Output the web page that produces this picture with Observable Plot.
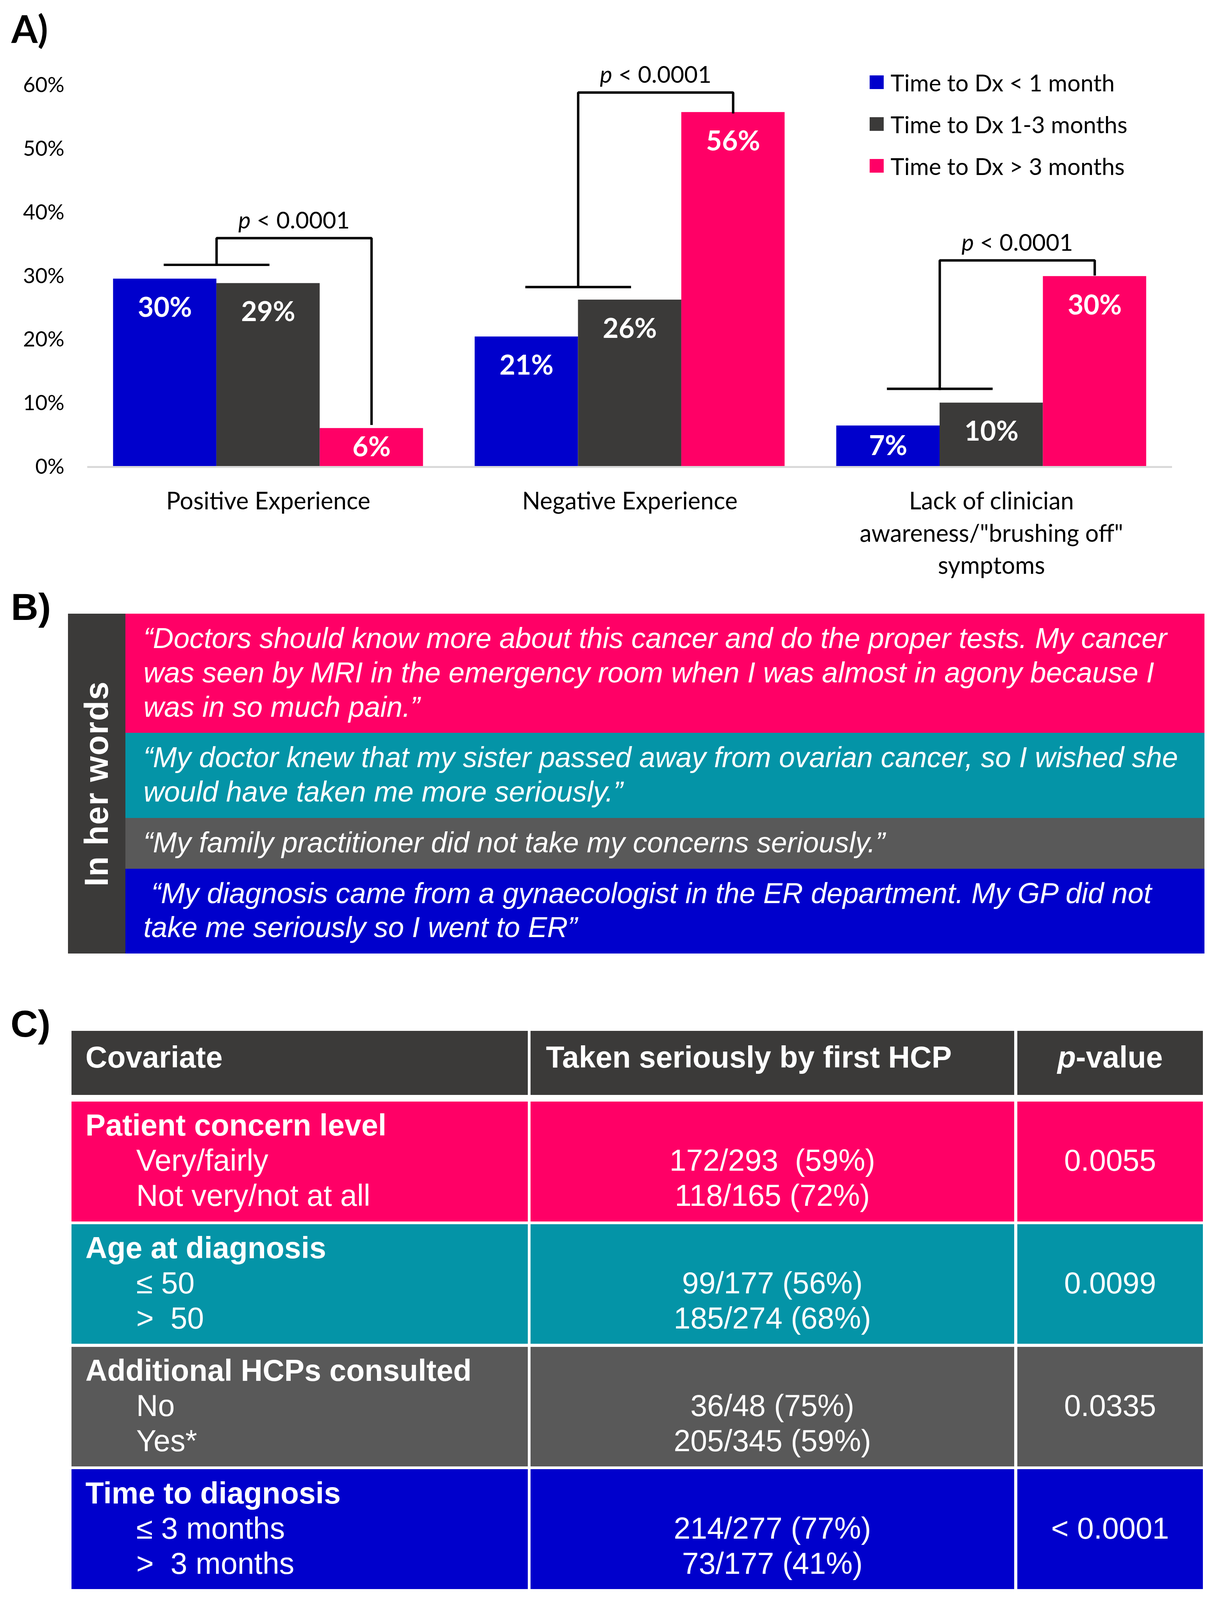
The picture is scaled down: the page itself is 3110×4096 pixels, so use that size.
<!DOCTYPE html>
<html>
<head>
<meta charset="utf-8">
<script src="https://cdn.jsdelivr.net/npm/d3@7"></script>
<script src="https://cdn.jsdelivr.net/npm/@observablehq/plot@0.6"></script>
<style>
  html, body { margin: 0; padding: 0; background: #fff; }
  #page { position: relative; width: 3110px; height: 4096px; overflow: hidden; background: #fff; }
  .plbl { position: absolute; color: #000; line-height: 1; font-weight: bold; font-size: 97px; white-space: pre; }
  .legend { position: absolute; left: 2226px; top: 157px; font-family: Lato, sans-serif; font-size: 59.5px; color: #000; }
  .legend .row { height: 107px; display: flex; align-items: center; white-space: pre; }
  .legend .sw { width: 35.5px; height: 35.5px; margin-right: 18px; flex: none; }
  .quotes { position: absolute; left: 173.9px; top: 1571.3px; width: 2908.9px; display: flex; }
  .side { width: 147.3px; flex: none; background: #3B3A39; display: flex; align-items: center; justify-content: center; }
  .side span { writing-mode: vertical-rl; transform: rotate(180deg); color: #fff; font-family: "Liberation Sans", Arial, sans-serif; font-weight: bold; font-size: 84.5px; letter-spacing: 2px; white-space: pre; }
  .qcol { flex: 1; display: flex; flex-direction: column; }
  .qbox { box-sizing: border-box; padding: 20px 0 22px 46px; color: #fff; font-family: "Liberation Sans", Arial, sans-serif; font-style: italic; font-size: 73.2px; line-height: 87.7px; }
  .qbox div { white-space: pre; }
  .table { position: absolute; left: 182.8px; top: 2638.9px; width: 2896.2px; height: 1430px; }
  .cell { position: absolute; box-sizing: border-box; color: #fff; font-family: "Liberation Sans", Arial, sans-serif; font-size: 77px; line-height: 90px; }
  .cell div { white-space: pre; }
</style>
</head>
<body>
<div id="page"></div>
<script>
// ---------------- Panel A data ----------------
const groups = ["Positive Experience", "Negative Experience", "Lack of clinician\nawareness/\"brushing off\"\nsymptoms"];
const series = ["Time to Dx < 1 month", "Time to Dx 1-3 months", "Time to Dx > 3 months"];
const seriesColors = ["#0000CC", "#3B3A39", "#FF0066"];
const lessThan1Month = [29.6, 20.5, 6.5];
const oneTo3Months = [28.9, 26.3, 10.1];
const moreThan3Months = [6.1, 55.8, 30.0];
const lessThan1MonthLabels = ["30%", "21%", "7%"];
const oneTo3MonthsLabels = ["29%", "26%", "10%"];
const moreThan3MonthsLabels = ["6%", "56%", "30%"];
const yTicks = [0, 10, 20, 30, 40, 50, 60];
const pLabels = ["p < 0.0001", "p < 0.0001", "p < 0.0001"];
const bracketLow = [31.8, 28.3, 12.3];
const bracketTop = [36.0, 58.9, 32.5];
const bracketEnd = [6.8, 55.8, 30.3];

// ---------------- Panel B data ----------------
const quoteLines = [
  ["\u201CDoctors should know more about this cancer and do the proper tests. My cancer",
   "was seen by MRI in the emergency room when I was almost in agony because I",
   "was in so much pain.\u201D"],
  ["\u201CMy doctor knew that my sister passed away from ovarian cancer, so I wished she",
   "would have taken me more seriously.\u201D"],
  ["\u201CMy family practitioner did not take my concerns seriously.\u201D"],
  [" \u201CMy diagnosis came from a gynaecologist in the ER department. My GP did not",
   "take me seriously so I went to ER\u201D"]
];
const quoteColors = ["#FF0066", "#0494A7", "#595959", "#0000CC"];
const sideLabel = "In her words";

// ---------------- Panel C data ----------------
const tableHeader = ["Covariate", "Taken seriously by first HCP", "p-value"];
const covariates = ["Patient concern level", "Age at diagnosis", "Additional HCPs consulted", "Time to diagnosis"];
const covariateLevels = [["Very/fairly", "Not very/not at all"], ["\u2264 50", ">  50"], ["No", "Yes*"], ["\u2264 3 months", ">  3 months"]];
const takenSeriously = [["172/293  (59%)", "118/165 (72%)"], ["99/177 (56%)", "185/274 (68%)"], ["36/48 (75%)", "205/345 (59%)"], ["214/277 (77%)", "73/177 (41%)"]];
const pValues = ["0.0055", "0.0099", "0.0335", "< 0.0001"];
const rowColors = ["#FF0066", "#0494A7", "#595959", "#0000CC"];
const headerColor = "#3B3A39";

const page = d3.select("#page");

// ---------------- Panel A ----------------
const seriesValues = [lessThan1Month, oneTo3Months, moreThan3Months];
const seriesLabels = [lessThan1MonthLabels, oneTo3MonthsLabels, moreThan3MonthsLabels];
const bw = 2 / 7; // bar width in group units
const bars = [];
groups.forEach((g, gi) => series.forEach((s, si) => bars.push({gi, si, series: s, value: seriesValues[si][gi], label: seriesLabels[si][gi]})));
const center = d => d.gi + (d.si - 1) * bw;

const brackets = [];
groups.forEach((g, gi) => {
  const blueC = gi - bw, grayC = gi, mid = gi - bw / 2, pinkC = gi + bw;
  brackets.push({id: gi * 2, x: blueC, y: bracketLow[gi]}, {id: gi * 2, x: grayC, y: bracketLow[gi]});
  brackets.push({id: gi * 2 + 1, x: mid, y: bracketLow[gi]}, {id: gi * 2 + 1, x: mid, y: bracketTop[gi]},
                {id: gi * 2 + 1, x: pinkC, y: bracketTop[gi]}, {id: gi * 2 + 1, x: pinkC, y: bracketEnd[gi]});
});
const pData = groups.map((g, gi) => ({x: gi + bw / 4, y: bracketTop[gi], text: pLabels[gi]}));

const chart = Plot.plot({
  width: 3110,
  height: 1510,
  marginLeft: 223.3,
  marginRight: 110,
  marginTop: 218.5,
  marginBottom: 314.9,
  x: {domain: [-0.5, 2.5]},
  y: {domain: [0, 60]},
  color: {domain: series, range: seriesColors},
  style: {fontFamily: "Lato, sans-serif", fontSize: "60px", color: "#000", background: "transparent", overflow: "visible"},
  marks: [
    Plot.rectY(bars, {x1: d => center(d) - bw / 2, x2: d => center(d) + bw / 2, y1: 0, y2: "value", fill: "series"}),
    Plot.ruleY([0], {stroke: "#D9D9D9", strokeWidth: 5}),
    Plot.text(bars, {x: center, y: d => Math.max(d.value - 4.6, d.value / 2), text: "label", fill: "white", fontWeight: "bold", fontSize: 70}),
    Plot.line(brackets, {x: "x", y: "y", z: "id", stroke: "#000", strokeWidth: 6.2, strokeLinejoin: "miter", strokeLinecap: "square"}),
    Plot.text(pData, {x: "x", y: "y", text: "text", dy: -44, fontSize: 60, fill: "#000"}),
    Plot.axisY({ticks: yTicks, tickFormat: d => d + "%", tickSize: 0, tickPadding: 59, fontSize: 54, label: null}),
    Plot.axisX({ticks: [0, 1, 2], tickFormat: i => groups[i], tickSize: 0, tickPadding: 50, fontSize: 61, lineHeight: 1.353, label: null})
  ]
});
d3.select(chart).style("position", "absolute").style("left", "0px").style("top", "0px").style("max-width", "none");
page.node().appendChild(chart);

// italic "p" in the p-value annotations
d3.select(chart).selectAll("text").filter(function() { return pLabels.includes(this.textContent); }).each(function() {
  const t = d3.select(this);
  const s = t.text();
  t.text(null);
  t.append("tspan").attr("font-style", "italic").text(s.slice(0, 1));
  t.append("tspan").text(s.slice(1));
});

// legend
const legend = page.append("div").attr("class", "legend");
series.forEach((s, i) => {
  const row = legend.append("div").attr("class", "row");
  row.append("div").attr("class", "sw").style("background", seriesColors[i]);
  row.append("span").text(s);
});

// panel labels
page.append("div").attr("class", "plbl").style("left", "29px").style("top", "24.4px").style("font-family", "Lato, sans-serif").text("A)");
page.append("div").attr("class", "plbl").style("left", "28px").style("top", "1505.3px").style("font-family", "'Liberation Sans', Arial, sans-serif").text("B)");
page.append("div").attr("class", "plbl").style("left", "27px").style("top", "2572px").style("font-family", "'Liberation Sans', Arial, sans-serif").text("C)");

// ---------------- Panel B ----------------
const quotes = page.append("div").attr("class", "quotes");
quotes.append("div").attr("class", "side").append("span").text(sideLabel);
const qcol = quotes.append("div").attr("class", "qcol");
quoteLines.forEach((lines, i) => {
  const box = qcol.append("div").attr("class", "qbox").style("background", quoteColors[i]);
  lines.forEach(l => box.append("div").text(l));
});

// ---------------- Panel C ----------------
const table = page.append("div").attr("class", "table");
const colX = [0, 1174.8, 2421.2];
const colW = [1168.1, 1238.8, 475];
const headerH = 164.6, headGap = 16.6, rowH = 306.5, rowGap = 7.3;

tableHeader.forEach((h, ci) => {
  const c = table.append("div").attr("class", "cell")
    .style("left", colX[ci] + "px").style("top", "0px")
    .style("width", colW[ci] + "px").style("height", headerH + "px")
    .style("background", headerColor).style("font-weight", "bold")
    .style("padding-top", "22.3px")
    .style("padding-left", ci === 2 ? "0px" : (ci === 0 ? "36px" : "40px"))
    .style("text-align", ci === 2 ? "center" : "left");
  const d = c.append("div");
  if (h.startsWith("p-")) {
    d.append("span").style("font-style", "italic").text("p");
    d.append("span").text(h.slice(1));
  } else d.text(h);
});

covariates.forEach((cov, ri) => {
  const top = headerH + headGap + ri * (rowH + rowGap);
  const mk = ci => table.append("div").attr("class", "cell")
    .style("left", colX[ci] + "px").style("top", top + "px")
    .style("width", colW[ci] + "px").style("height", rowH + "px")
    .style("background", rowColors[ri]).style("padding-top", "15.3px");
  const c0 = mk(0).style("padding-left", "36px");
  c0.append("div").style("font-weight", "bold").text(cov);
  covariateLevels[ri].forEach(l => c0.append("div").style("padding-left", "130px").text(l));
  const c1 = mk(1).style("text-align", "center");
  c1.append("div").text(" ");
  takenSeriously[ri].forEach(l => c1.append("div").text(l));
  const c2 = mk(2).style("text-align", "center");
  c2.append("div").text(" ");
  c2.append("div").text(pValues[ri]);
});
</script>
</body>
</html>
